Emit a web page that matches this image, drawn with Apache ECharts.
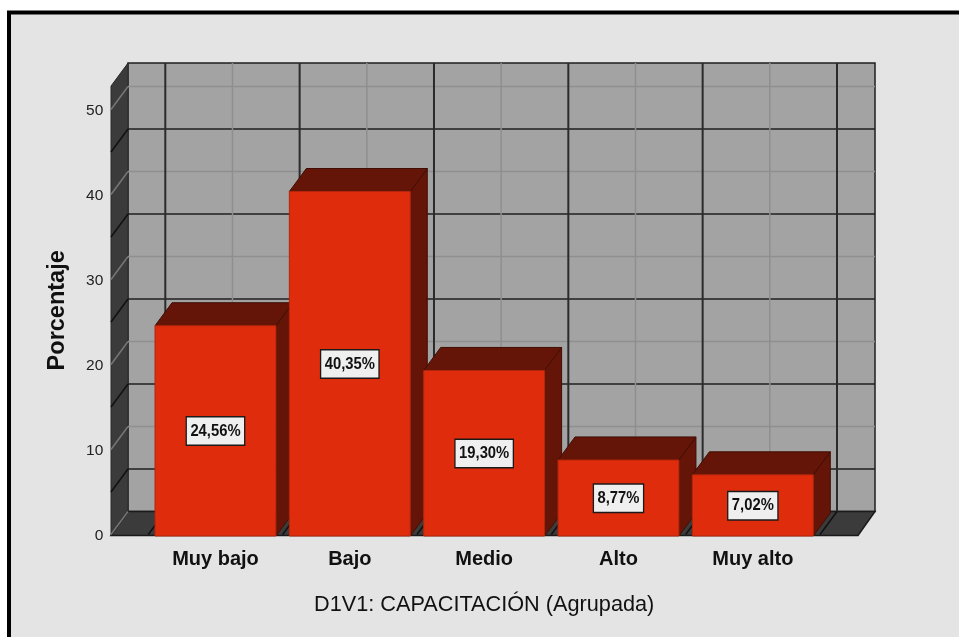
<!DOCTYPE html>
<html>
<head>
<meta charset="utf-8">
<style>
  html, body { margin: 0; padding: 0; background: #fff; }
  #main { width: 959px; height: 637px; }
</style>
<script src="https://cdn.jsdelivr.net/npm/echarts@6/dist/echarts.min.js"></script>
</head>
<body>
<div id="main"></div>
<script>
  var categories = ['Muy bajo', 'Bajo', 'Medio', 'Alto', 'Muy alto'];
  var percentages = [24.56, 40.35, 19.30, 8.77, 7.02];
  var gridDark = [5, 15, 25, 35, 45];
  var gridLight = [10, 20, 30, 40, 50];

  var DX = 17, DY = -23; // profundidad 3D
  var AXIS_TOP = 52.75;
  var PAD_LEFT = 37.3, PAD_RIGHT = 38;

  var DARK = '#1f1f1f', LIGHT = '#8f8f8f';

  function line(x1, y1, x2, y2, color, w) {
    return {
      type: 'line',
      shape: { x1: x1, y1: y1, x2: x2, y2: y2 },
      style: { stroke: color, lineWidth: w }
    };
  }

  function poly(points, fill, stroke, w) {
    return {
      type: 'polygon',
      shape: { points: points },
      style: { fill: fill, stroke: stroke, lineWidth: w || 1 }
    };
  }

  // paredes y suelo
  function renderBox(params, api) {
    var band = api.size([1, 0])[0];
    var first = api.coord([0, 0])[0] - band / 2;
    var y0 = api.coord([0, 0])[1];
    var yTop = api.coord([0, AXIS_TOP])[1];
    var left = first - PAD_LEFT;
    var right = first + band * categories.length + PAD_RIGHT;
    var kids = [];

    kids.push(poly([[left + DX, yTop + DY], [right + DX, yTop + DY], [right + DX, y0 + DY], [left + DX, y0 + DY]], '#a3a3a3', DARK, 1.5));
    kids.push(poly([[left, y0], [left, yTop], [left + DX, yTop + DY], [left + DX, y0 + DY]], '#3b3b3b', '#2a2a2a', 1));
    kids.push(poly([[left, y0 + 1], [left + DX, y0 + DY], [right + DX, y0 + DY], [right, y0 + 1]], '#3b3b3b', '#1a1a1a', 1.5));

    gridLight.forEach(function (v) {
      var y = api.coord([0, v])[1];
      kids.push(line(left + DX, y + DY, right + DX, y + DY, LIGHT, 1.5));
      kids.push(line(left, y, left + DX, y + DY, '#777', 1.5));
    });
    gridDark.forEach(function (v) {
      var y = api.coord([0, v])[1];
      kids.push(line(left + DX, y + DY, right + DX, y + DY, DARK, 1.5));
      kids.push(line(left, y, left + DX, y + DY, '#111', 1.5));
    });
    for (var i = 0; i < categories.length; i++) {
      var c = first + band * (i + 0.5);
      kids.push(line(c + DX, yTop + DY, c + DX, y0 + DY, LIGHT, 1.5));
      kids.push(line(c, y0, c + DX, y0 + DY, '#777', 1.5));
    }
    for (var j = 0; j <= categories.length; j++) {
      var b = first + band * j;
      kids.push(line(b + DX, yTop + DY, b + DX, y0 + DY, '#2b2b2b', 2));
      kids.push(line(b, y0, b + DX, y0 + DY, '#111', 1.5));
    }
    kids.push(line(left, y0, left + DX, y0 + DY, '#777', 1.5));

    return { type: 'group', children: kids };
  }

  // barra 3D con su etiqueta
  function renderBar(params, api) {
    var x = api.coord([api.value(0), 0])[0];
    var y0 = api.coord([0, 0])[1] + 1.5;
    var y1 = api.coord([0, api.value(1)])[1];
    var w = api.size([1, 0])[0] * 0.9;
    var l = x - w / 2, r = x + w / 2;
    var midY = (api.coord([0, 0])[1] + y1) / 2 + 1;
    return {
      type: 'group',
      children: [
        poly([[r, y0], [r, y1], [r + DX, y1 + DY], [r + DX, y0 + DY]], '#651507', '#3f0e05', 1),
        poly([[l, y1], [l + DX, y1 + DY], [r + DX, y1 + DY], [r, y1]], '#651507', '#3f0e05', 1),
        poly([[l, y0], [l, y1], [r, y1], [r, y0]], '#de2c0c', '#b3260c', 1),
        {
          type: 'text',
          x: x,
          y: midY,
          scaleX: 0.87,
          style: {
            text: api.value(1).toFixed(2).replace('.', ',') + '%',
            align: 'center',
            verticalAlign: 'middle',
            fill: '#111',
            font: 'bold 17px "Liberation Sans"',
            backgroundColor: '#efefef',
            borderColor: '#1a1a1a',
            borderWidth: 1.5,
            padding: [5, 4, 5, 4]
          }
        }
      ]
    };
  }

  var option = {
    animation: false,
    backgroundColor: '#fff',
    textStyle: { fontFamily: '"Liberation Sans"' },
    graphic: [{
      type: 'rect',
      z: -1,
      silent: true,
      shape: { x: 9, y: 12.5, width: 1000, height: 700 },
      style: { fill: '#e4e4e4', stroke: '#000', lineWidth: 4 }
    }],
    grid: { left: 148.3, top: 86.1, width: 671.7, height: 448.4 },
    xAxis: {
      type: 'category',
      data: categories,
      axisLine: { show: false },
      axisTick: { show: false },
      axisLabel: { margin: 15, fontSize: 20, fontWeight: 'bold', color: '#111' },
      name: 'D1V1: CAPACITACIÓN (Agrupada)',
      nameLocation: 'middle',
      nameGap: 60,
      nameTextStyle: { fontSize: 21.7, color: '#111' }
    },
    yAxis: {
      type: 'value',
      min: 0,
      max: AXIS_TOP,
      interval: 10,
      splitLine: { show: false },
      axisLine: { show: false },
      axisTick: { show: false },
      axisLabel: {
        margin: 45,
        showMaxLabel: false,
        fontSize: 15.5,
        verticalAlign: 'top',
        lineHeight: 3,
        color: '#222'
      },
      name: 'Porcentaje',
      nameLocation: 'middle',
      nameGap: 79,
      nameTextStyle: { fontSize: 23.5, fontWeight: 'bold', color: '#111' }
    },
    series: [{
      type: 'custom',
      silent: true,
      clip: false,
      z: 1,
      renderItem: renderBox,
      encode: { x: 0, y: 1 },
      data: [[0, 0]]
    }, {
      type: 'custom',
      silent: true,
      clip: false,
      z: 2,
      renderItem: renderBar,
      encode: { x: 0, y: 1 },
      data: percentages.map(function (v, i) { return [i, v]; })
    }]
  };

  echarts.init(document.getElementById('main')).setOption(option);
</script>
</body>
</html>
